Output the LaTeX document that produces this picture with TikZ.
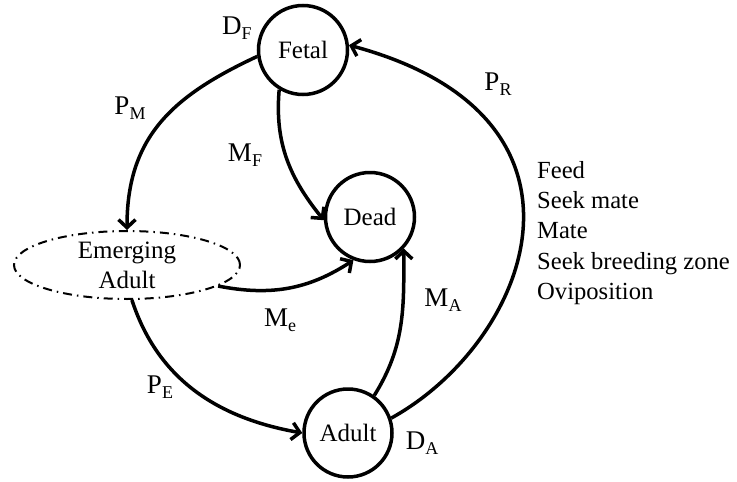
\documentclass[tikz,border=0pt]{standalone}
\usepackage{fontspec}
\setmainfont{Liberation Serif}
\usetikzlibrary{arrows.meta,shapes.geometric}

\newcommand{\trate}[2]{#1\raisebox{-5pt}{\fontsize{18}{18}\selectfont #2}}

\begin{document}
\begin{tikzpicture}[x=1pt,y=1pt,
    state/.style={draw, circle, line width=3.5pt, inner sep=0pt, minimum size=89pt, font=\fontsize{25}{30}\selectfont},
    emerge/.style={draw, ellipse, line width=2pt, dash pattern=on 9pt off 5pt on 1.5pt off 5pt,
        inner sep=0pt, minimum width=226pt, minimum height=68pt, align=center, font=\fontsize{25}{30}\selectfont},
    flow/.style={line width=3.5pt, -{Straight Barb[length=8pt,width=17pt]}},
    rate/.style={inner sep=0pt, font=\fontsize{27}{30}\selectfont}]
        \useasboundingbox (0,0) rectangle (737,-482);

        % Zustaende
        \node[state] (fetal) at (303,-50)  {Fetal};
        \node[state] (dead)  at (370,-217) {Dead};
        \node[state, minimum size=88pt] (adult) at (348,-433) {Adult};
        \node[emerge] (emerging) at (127,-265) {Emerging\\Adult};

        % Uebergaenge
        \draw[flow] (fetal.188) to[out=205, in=90, looseness=1.1] (emerging.north);
        \draw[flow] (fetal.239) to[out=265, in=129] (dead.184);
        \draw[flow] (emerging.-13) to[out=-11, in=213] (dead.249);
        \draw[flow] (emerging.-82) to[out=-72, in=170] (adult.180);
        \draw[flow] (adult.55) to[out=58, in=-90] (dead.-43);
        \draw[flow] (adult.19) .. controls +(29:160) and +(-15:276) .. (fetal.6);

        % Raten
        \node[rate] (df) at (237,-28)  {\trate{D}{F}};
        \node[rate] (pm) at (130,-108) {\trate{P}{M}};
        \node[rate] (mf) at (245,-155) {\trate{M}{F}};
        \node[rate] (me) at (280,-320) {\trate{M}{e}};
        \node[rate] (pe) at (160,-387) {\trate{P}{E}};
        \node[rate] (pr) at (498,-84)  {\trate{P}{R}};
        \node[rate] (ma) at (443,-300) {\trate{M}{A}};
        \node[rate] (da) at (422,-443) {\trate{D}{A}};

        % Aktivitaeten
        \node[anchor=west, align=left, inner sep=0pt, font=\fontsize{24.6}{30.3}\selectfont] (acts) at (537,-233)
            {Feed\\Seek mate\\Mate\\Seek breeding zone\\Oviposition};
\end{tikzpicture}
\end{document}
